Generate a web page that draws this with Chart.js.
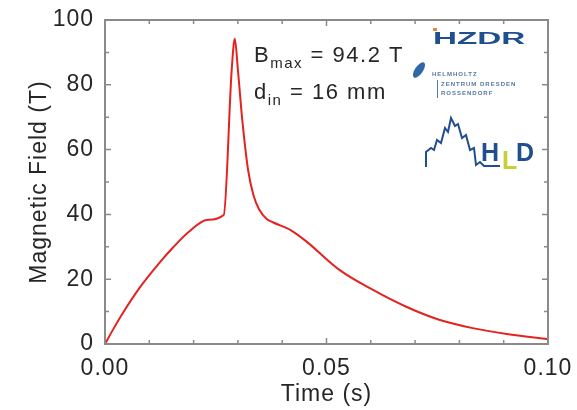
<!DOCTYPE html>
<html>
<head>
<meta charset="utf-8">
<script src="https://cdn.jsdelivr.net/npm/chart.js@4"></script>
<style>
  html, body { margin: 0; padding: 0; background: #fff; }
  #wrap { width: 577px; height: 410px; position: relative; }
</style>
</head>
<body>
<div id="wrap"><canvas id="pulse-chart"></canvas></div>
<script>
// pulse data
const timeValues = [0, 0.002, 0.004, 0.008, 0.012, 0.0155, 0.019, 0.023, 0.0268,
  0.0286, 0.0293, 0.0300, 0.0310, 0.0323, 0.0335, 0.0348, 0.0365, 0.038, 0.042,
  0.0455, 0.053, 0.0605, 0.068, 0.0756, 0.083, 0.0907, 0.1];
const fieldValues = [0, 4.9, 9.5, 17.7, 24.6, 30, 34.7, 38.3, 39.8,
  84.6, 94.2, 84.6, 69, 53.7, 46, 41.5, 38.6, 37.5, 35.1,
  31.6, 22.8, 16.7, 11.5, 7.4, 4.9, 3.1, 1.5];
const xMajorTicks = [0, 0.05, 0.1];
const xMinorTicks = [0.01, 0.02, 0.03, 0.04, 0.06, 0.07, 0.08, 0.09];
const yMajorTicks = [0, 20, 40, 60, 80, 100];
const yMinorTicks = [10, 30, 50, 70, 90];

const textColor = '#262626';
const frameColor = '#8a8a8a';
const lineColor = '#e3231f';
const fontFamily = '"Liberation Sans", Arial, sans-serif';

// the original text is set a little wide
const spacingPlugin = {
  id: 'spacing',
  beforeUpdate(chart) { chart.ctx.letterSpacing = '1px'; },
  beforeDraw(chart) { chart.ctx.letterSpacing = '1px'; }
};

// frame + inward ticks on all four sides
const framePlugin = {
  id: 'frame',
  afterDatasetsDraw(chart) {
    const { ctx, chartArea: a, scales: { x, y } } = chart;
    ctx.save();
    ctx.strokeStyle = frameColor;
    ctx.lineWidth = 2;
    ctx.strokeRect(a.left, a.top, a.right - a.left, a.bottom - a.top);
    ctx.lineWidth = 1.5;
    const tickX = (vals, len) => vals.forEach(v => {
      const px = x.getPixelForValue(v);
      ctx.beginPath();
      ctx.moveTo(px, a.bottom); ctx.lineTo(px, a.bottom - len);
      ctx.moveTo(px, a.top); ctx.lineTo(px, a.top + len);
      ctx.stroke();
    });
    const tickY = (vals, len) => vals.forEach(v => {
      const py = y.getPixelForValue(v);
      ctx.beginPath();
      ctx.moveTo(a.left, py); ctx.lineTo(a.left + len, py);
      ctx.moveTo(a.right, py); ctx.lineTo(a.right - len, py);
      ctx.stroke();
    });
    tickX(xMajorTicks, 6); tickX(xMinorTicks, 4);
    tickY(yMajorTicks, 6); tickY(yMinorTicks, 4);
    ctx.restore();
  }
};

// annotation text and the lab logos (decoration)
const labelPlugin = {
  id: 'labels',
  afterDraw(chart) {
    const ctx = chart.ctx;
    ctx.save();
    ctx.letterSpacing = '1.5px';
    ctx.fillStyle = textColor;
    ctx.textBaseline = 'alphabetic';
    ctx.textAlign = 'left';
    const big = '22px ' + fontFamily, small = '15px ' + fontFamily;
    const withSub = (main, sub, rest, x, y) => {
      ctx.font = big;
      ctx.fillText(main, x, y);
      x += ctx.measureText(main).width;
      ctx.font = small;
      ctx.fillText(sub, x, y + 6);
      x += ctx.measureText(sub).width;
      ctx.font = big;
      ctx.fillText(rest, x, y);
    };
    withSub('B', 'max', ' = 94.2 T', 254, 62);
    withSub('d', 'in', ' = 16 mm', 254, 99);

    // HZDR
    ctx.letterSpacing = '0px';
    ctx.fillStyle = '#1f4f8f';
    ctx.font = 'bold 19px ' + fontFamily;
    ctx.save();
    ctx.translate(433, 44);
    ctx.scale(1.75, 0.85);
    ctx.fillText('HZDR', 0, 0);
    ctx.restore();
    ctx.fillStyle = '#e08a3a';
    ctx.fillRect(433, 28, 4, 3);

    // Helmholtz leaf + text
    ctx.fillStyle = '#2f67a8';
    ctx.beginPath();
    ctx.ellipse(419, 70, 4, 9, 0.6, 0, Math.PI * 2);
    ctx.fill();
    ctx.fillStyle = '#5577a0';
    ctx.letterSpacing = '1px';
    ctx.font = 'bold 6px ' + fontFamily;
    ctx.fillText('HELMHOLTZ', 432, 76);
    ctx.fillText('ZENTRUM DRESDEN', 441, 86);
    ctx.fillText('ROSSENDORF', 441, 95);
    ctx.fillRect(437, 80, 1, 18);
    ctx.letterSpacing = '0px';

    // HLD mountain outline
    ctx.strokeStyle = '#1f4f8f';
    ctx.lineWidth = 2;
    ctx.beginPath();
    const m = [[426, 167], [426, 152], [431, 148], [434, 150], [437, 140], [441, 143],
      [445, 128], [448, 132], [451, 118], [455, 126], [458, 124], [462, 138],
      [466, 135], [470, 150], [474, 148], [476, 165], [480, 162], [484, 166], [500, 166]];
    m.forEach((p, i) => i ? ctx.lineTo(p[0], p[1]) : ctx.moveTo(p[0], p[1]));
    ctx.stroke();
    ctx.font = 'bold 25px ' + fontFamily;
    ctx.fillStyle = '#1f4f8f';
    ctx.fillText('H', 481, 161);
    ctx.fillStyle = '#c8cf3a';
    ctx.fillText('L', 502, 169);
    ctx.fillStyle = '#1f4f8f';
    ctx.fillText('D', 516, 161);
    ctx.restore();
  }
};

const points = timeValues.map((t, i) => ({ x: t, y: fieldValues[i] }));

new Chart(document.getElementById('pulse-chart'), {
  type: 'line',
  data: {
    datasets: [{
      data: points,
      borderColor: lineColor,
      borderWidth: 2,
      pointRadius: 0,
      cubicInterpolationMode: 'monotone',
      fill: false
    }]
  },
  options: {
    responsive: true,
    maintainAspectRatio: false,
    animation: false,
    layout: { padding: { top: 20, right: 29, left: 0, bottom: 0 } },
    plugins: { legend: { display: false }, tooltip: { enabled: false } },
    scales: {
      x: {
        type: 'linear',
        min: 0, max: 0.1,
        afterBuildTicks: s => { s.ticks = xMajorTicks.map(v => ({ value: v })); },
        afterFit: s => { s.height = 66; },
        grid: { display: false },
        border: { display: false },
        ticks: {
          color: textColor,
          font: { family: fontFamily, size: 23 },
          padding: 3,
          maxRotation: 0,
          callback: v => v.toFixed(2)
        },
        title: {
          display: true,
          text: 'Time (s)',
          color: textColor,
          font: { family: fontFamily, size: 23 },
          padding: { top: 0, bottom: 2 }
        }
      },
      y: {
        min: 0, max: 100,
        afterBuildTicks: s => { s.ticks = yMajorTicks.map(v => ({ value: v })); },
        afterFit: s => { s.width = 105; },
        grid: { display: false },
        border: { display: false },
        ticks: {
          color: textColor,
          font: { family: fontFamily, size: 23 },
          padding: 3
        },
        title: {
          display: true,
          text: 'Magnetic Field (T)',
          color: textColor,
          font: { family: fontFamily, size: 23 },
          padding: { top: 26, bottom: 0 }
        }
      }
    }
  },
  plugins: [spacingPlugin, framePlugin, labelPlugin]
});
</script>
</body>
</html>
